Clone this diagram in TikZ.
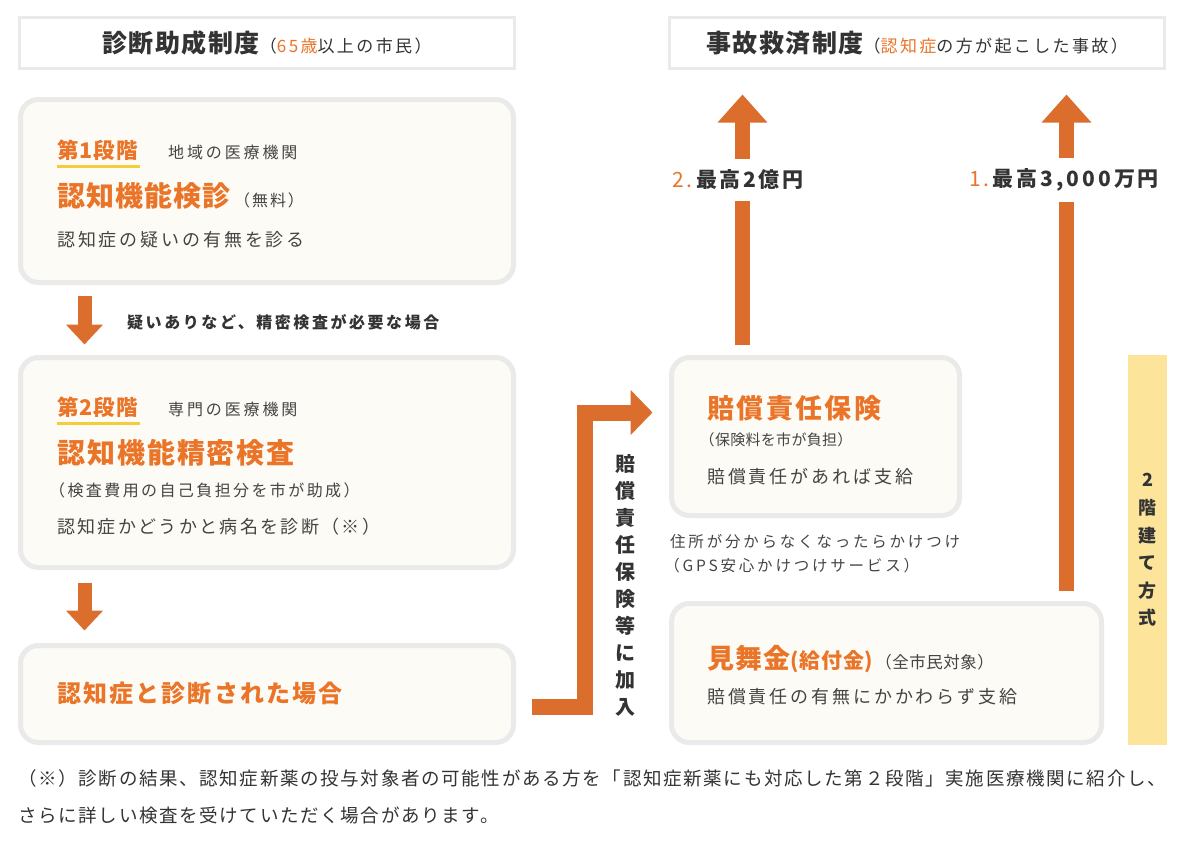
\documentclass[tikz,border=0pt]{standalone}
\usepackage{fontspec}
\setmainfont{Noto Sans CJK JP}
\usetikzlibrary{arrows.meta,calc}
\definecolor{txt}{HTML}{333333}
\definecolor{txtb}{HTML}{444444}
\definecolor{org}{HTML}{EA7428}
\definecolor{arr}{HTML}{DB6E2D}
\definecolor{cream}{HTML}{FDFBF5}
\definecolor{bord}{HTML}{EAEAEA}
\definecolor{ylw}{HTML}{FDE49B}
\definecolor{uline}{HTML}{F5CC3A}
\newcommand{\fs}[2]{\fontsize{#1pt}{#2pt}\selectfont}
\newcommand{\ls}[1]{\addfontfeatures{LetterSpace=#1}}
\begin{document}
\begin{tikzpicture}[x=1pt,y=-1pt,
  hdr/.style={draw=bord, line width=3pt, fill=white, minimum width=495pt, minimum height=51pt, anchor=north west, inner sep=0pt, outer sep=0pt},
  card/.style={draw=bord, line width=5pt, fill=cream, rounded corners=18pt, anchor=north west, inner sep=0pt, outer sep=0pt},
  t/.style={anchor=west, inner sep=0pt, text=txtb},
  ot/.style={anchor=west, inner sep=0pt, text=org},
  downarrow/.style={draw=arr, line width=14pt, -{Triangle[width=36pt,length=20pt]}},
  uparrow/.style={draw=arr, line width=15pt, -{Triangle[width=48pt,length=28pt]}},
  larrow/.style={draw=arr, line width=16pt, line join=miter, -{Triangle[width=44pt,length=22pt]}},
  amount/.style={fill=white, inner xsep=2pt, inner ysep=11pt, text=txt},
  ulinestyle/.style={draw=uline, line width=3pt}
]
\useasboundingbox (0,0) rectangle (1193,843);

% header boxes
\node[hdr] (h1) at (19.5,17.5) {};
\node[hdr] (h2) at (669.5,17.5) {};
\node[text=txt, inner sep=0pt] at (h1.center) {\fs{25}{30}\bfseries\ls{6}診断助成制度\fs{17}{20}\mdseries\ls{14}（\textcolor{org}{65歳}以上の市民）};
\node[text=txt, inner sep=0pt] at (h2.center) {\fs{25}{30}\bfseries\ls{6}事故救済制度\fs{17}{20}\mdseries\ls{14}（\textcolor{org}{認知症}の方が起こした事故）};

% left cards
\node[card, minimum width=493pt, minimum height=183pt] (s1) at (20.5,99.5) {};
\node[card, minimum width=493pt, minimum height=210pt] (s2) at (20.5,357.5) {};
\node[card, minimum width=493pt, minimum height=97pt] (s3) at (20.5,645.5) {};

% stage 1 texts
\node[ot, font={\fs{21.5}{26}\bfseries\ls{5}}] (st1) at (57,150) {第1段階};
\draw[ulinestyle] ([yshift=-6pt]st1.south west) -- ([yshift=-6pt,xshift=2pt]st1.south east);
\node[t, font={\fs{16}{20}\ls{18}}] (st1b) at (168,152) {地域の医療機関};
\node[ot, font={\fs{28}{32}\bfseries\ls{4}}] (st1t) at (57,196) {認知機能検診};
\node[t, font={\fs{16}{20}\ls{12}}, anchor=base west] (st1f) at ([xshift=3pt]st1t.base east) {（無料）};
\node[t, font={\fs{18}{22}\ls{16}}] (st1d) at (57,240) {認知症の疑いの有無を診る};

% stage 2 texts
\node[ot, font={\fs{21.5}{26}\bfseries\ls{5}}] (st2) at (57,407) {第2段階};
\draw[ulinestyle] ([yshift=-6pt]st2.south west) -- ([yshift=-6pt,xshift=2pt]st2.south east);
\node[t, font={\fs{16}{20}\ls{18}}] (st2b) at (168,409) {専門の医療機関};
\node[ot, font={\fs{28}{32}\bfseries\ls{7}}] (st2t) at (57,453) {認知機能精密検査};
\node[t, font={\fs{16}{20}\ls{15}}] (st2f) at (57,490) {\kern-0.5em（検査費用の自己負担分を市が助成）};
\node[t, font={\fs{18}{22}\ls{13}}] (st2d) at (57,527) {認知症かどうかと病名を診断（※）};

% stage 3 text
\node[ot, font={\fs{24}{28}\bfseries\ls{9}}] (st3) at (57,693) {認知症と診断された場合};

% down arrows
\draw[downarrow, shorten <=13pt, shorten >=13pt] ($(s1.south west)+(64,0)$) -- ($(s2.north west)+(64,0)$);
\draw[downarrow, shorten <=15pt, shorten >=15pt] ($(s2.south west)+(64,0)$) -- ($(s3.north west)+(64,0)$);
\node[t, text=txt, font={\fs{16}{20}\bfseries\ls{16}}] (cond) at (127,322) {疑いありなど、精密検査が必要な場合};

% right cards
\node[card, minimum width=288pt, minimum height=158pt] (k1) at (671.5,357.5) {};
\node[card, minimum width=430pt, minimum height=139pt] (k2) at (671.5,603.5) {};
\node[fill=ylw, minimum width=39pt, minimum height=390pt, anchor=north west, inner sep=0pt, outer sep=0pt] (bar) at (1128,355) {};
\node[text=txt, align=center, inner sep=0pt, font={\fs{18}{27.6}\bfseries}] at (bar.center) {2\\階\\建\\て\\方\\式};

% k1 texts
\node[ot, font={\fs{27}{31}\bfseries\ls{9}}] (k1t) at (707,408) {賠償責任保険};
\node[t, font={\fs{15}{18}\ls{2}}] (k1s) at (707,440) {\kern-0.5em（保険料を市が負担）};
\node[t, font={\fs{18}{22}\ls{16}}] (k1d) at (707,477) {賠償責任があれば支給};

% GPS texts
\node[t, font={\fs{15.5}{19}\ls{18}}] (gps1) at (670,542) {住所が分からなくなったらかけつけ};
\node[t, font={\fs{15.5}{19}\ls{18}}] (gps2) at (672,566) {\kern-0.5em（GPS安心かけつけサービス）};

% k2 texts
\node[ot, font={\fs{27}{31}\bfseries\ls{4}}] (k2t) at (707,658) {見舞金};
\node[ot, font={\fs{21}{25}\bfseries\ls{3}}, anchor=base west] (k2u) at (k2t.base east) {(給付金)};
\node[t, font={\fs{16.5}{19}\ls{3}}, anchor=base west] (k2v) at ([xshift=2pt]k2u.base east) {（全市民対象）};
\node[t, font={\fs{18}{22}\ls{16}}] (k2d) at (707,697) {賠償責任の有無にかかわらず支給};

% up arrows
\coordinate (a2s) at ($(k1.north west)+(71,0)$);
\coordinate (a1s) at ($(k2.north west)+(395,0)$);
\draw[uparrow, shorten <=13pt, shorten >=26pt] (a2s) -- (a2s |- h2.south);
\draw[uparrow, shorten <=13pt, shorten >=26pt] (a1s) -- (a1s |- h2.south);
\node[amount, font={\fs{21}{25}\bfseries\ls{12}}] (amt2) at (738,180) {\textcolor{org}{\mdseries 2.}\,最高2億円};
\node[amount, font={\fs{21}{25}\bfseries\ls{14}}] (amt1) at (1064,180) {\textcolor{org}{\mdseries 1.}\,最高3,000万円};

% L-shaped arrow
\coordinate (ls) at ($(s3.south east)+(18,-36)$);
\coordinate (le) at ($(k1.north west)+(-19,55)$);
\draw[larrow] (ls) -- ++(53,0) |- (le);
\node[text=txt, align=center, inner sep=0pt, font={\fs{20}{27}\bfseries}] (join) at (625,585) {賠\\償\\責\\任\\保\\険\\等\\に\\加\\入};

% footnote
\node[t, text=txt, font={\fs{18.5}{22}\ls{9}}] (fn1) at (18,778) {（※）診断の結果、認知症新薬の投与対象者の可能性がある方を「認知症新薬にも対応した第２段階」実施医療機関に紹介し、};
\node[t, text=txt, font={\fs{18.5}{22}\ls{9}}] (fn2) at (18,815) {さらに詳しい検査を受けていただく場合があります。};
\end{tikzpicture}
\end{document}
